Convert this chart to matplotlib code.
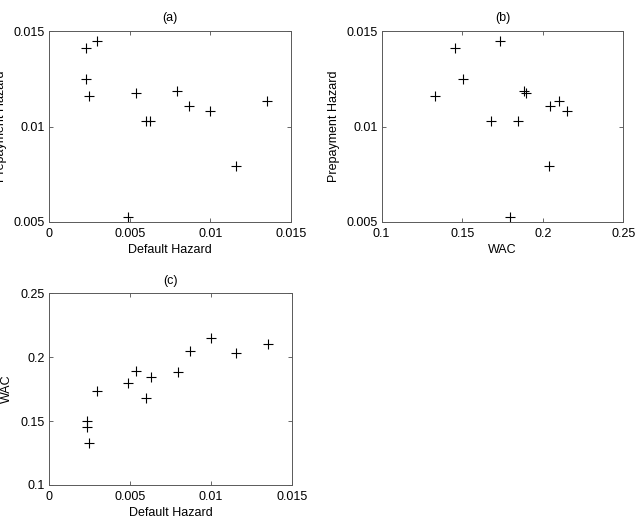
import numpy as np
import matplotlib
matplotlib.use("Agg")
import matplotlib.pyplot as plt

"""
3つのハザード/WAC散布図 (a)(b)(c)
"""

# 各プールのデータ
default_hazard = [0.00231, 0.00231, 0.00248, 0.00297, 0.00489, 0.00539, 0.00599,
                  0.00628, 0.00793, 0.00867, 0.00998, 0.01157, 0.01353]
prepay_hazard = [0.01409, 0.01247, 0.01160, 0.01449, 0.00526, 0.01174, 0.01027,
                 0.01030, 0.01188, 0.01105, 0.01081, 0.00793, 0.01131]
wac = [0.1456, 0.1503, 0.1330, 0.1735, 0.1796, 0.1895, 0.1680,
       0.1846, 0.1884, 0.2048, 0.2150, 0.2036, 0.2100]

hazard_ticks = [0, 0.005, 0.01, 0.015]
hazard_labels = ['0', '0.005', '0.01', '0.015']
prepay_ticks = [0.005, 0.01, 0.015]
prepay_labels = ['0.005', '0.01', '0.015']
wac_ticks = [0.1, 0.15, 0.2, 0.25]
wac_labels = ['0.1', '0.15', '0.2', '0.25']

plt.rcParams['font.family'] = ['Liberation Sans', 'DejaVu Sans']
plt.rcParams['font.size'] = 9

fig = plt.figure(figsize=(6.36, 5.17), dpi=100)


def Panel(rect, x, y, xt, xl, yt, yl, xlabel, ylabel, title, ylab_x):
    ax = fig.add_axes(rect)
    ax.plot(x, y, '+', color='black', markersize=6.5, markeredgewidth=0.8)
    ax.set_xlim(xt[0], xt[-1])
    ax.set_ylim(yt[0], yt[-1])
    ax.set_xticks(xt)
    ax.set_xticklabels(xl)
    ax.set_yticks(yt)
    ax.set_yticklabels(yl)
    ax.tick_params(direction='in', length=3, width=0.6, top=True, right=True,
                   labelsize=9, pad=3, color='0.3')
    ax.tick_params(axis='x', pad=4.5)
    for s in ax.spines.values():
        s.set_linewidth(0.7)
        s.set_color('0.35')
    ax.set_xlabel(xlabel, fontsize=9, labelpad=3)
    ax.set_ylabel(ylabel, fontsize=9)
    # ラベル右端の位置 (axes座標)
    ax.yaxis.set_label_coords(ylab_x, 0.5)
    ax.set_title(title, fontsize=9, pad=7)
    return ax


Panel([0.077, 0.5706, 0.3805, 0.3694], default_hazard, prepay_hazard,
      hazard_ticks, hazard_labels, prepay_ticks, prepay_labels,
      'Default Hazard', 'Prepayment Hazard', '(a)', -0.174)
Panel([0.600, 0.5706, 0.380, 0.3694], wac, prepay_hazard,
      wac_ticks, wac_labels, prepay_ticks, prepay_labels,
      'WAC', 'Prepayment Hazard', '(b)', -0.173)
Panel([0.0775, 0.0619, 0.3815, 0.3708], default_hazard, wac,
      hazard_ticks, hazard_labels, wac_ticks, wac_labels,
      'Default Hazard', 'WAC', '(c)', -0.149)

fig.savefig('out.png', dpi=100)
